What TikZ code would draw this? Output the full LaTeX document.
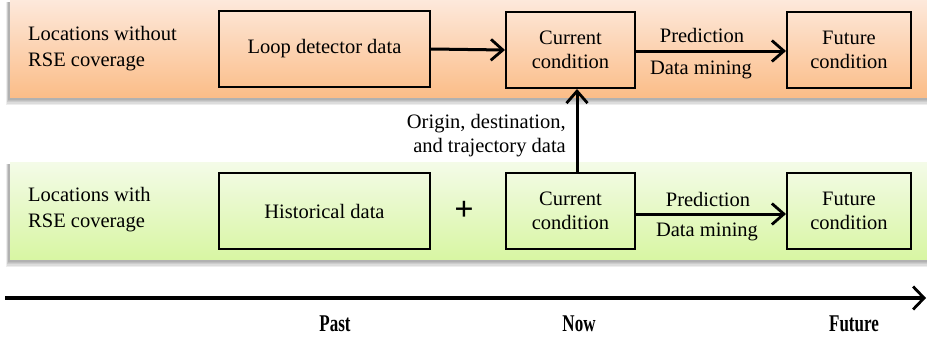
\documentclass[tikz,border=0pt]{standalone}
\usepackage{fontspec}
\setmainfont{LiberationSerif}[Extension=.ttf, UprightFont=*-Regular, BoldFont=*-Bold, ItalicFont=*-Italic, BoldItalicFont=*-BoldItalic]
\usetikzlibrary{arrows.meta}
\definecolor{orangetop}{HTML}{FDE9DC}
\definecolor{orangebot}{HTML}{FBBD88}
\definecolor{greentop}{HTML}{F4FBE8}
\definecolor{greenbot}{HTML}{D8F6A3}
\tikzset{
  stagebox/.style={draw=black, line width=2pt, align=center, inner sep=0pt,
    font=\fontsize{20.5}{24}\selectfont},
  plaintext/.style={align=left, inner sep=0pt, font=\fontsize{20.5}{26}\selectfont},
  flow/.style={line width=3pt, -{Straight Barb[length=12pt, width=21pt, line width=2.8pt]}},
  timelabel/.style={font=\fontsize{20}{22}\selectfont\bfseries, inner sep=0pt, yscale=1.2, xscale=0.85},
  bandshadow/.style={fill=black, opacity=0.07}
}
\begin{document}
\begin{tikzpicture}[x=1pt, y=-1pt]
\useasboundingbox (0,0) rectangle (927,338);

% soft shadows beneath the two bands
\foreach \s in {0,1,2,3,4} {
  \fill[bandshadow] (8-\s*0.5, 2) rectangle (935, 100+\s*1.2);
  \fill[bandshadow] (8-\s*0.5, 164) rectangle (935, 262+\s*1.2);
}

% coloured bands
\shade[top color=orangetop, bottom color=orangebot] (10,-1) rectangle (935,97);
\shade[top color=greentop, bottom color=greenbot] (10,162) rectangle (935,259);

% row labels
\node[plaintext, anchor=west] (rowtop) at (28,49) {Locations without\\RSE coverage};
\node[plaintext, anchor=west] (rowbot) at (28,210) {Locations with\\RSE coverage};

% upper row
\node[stagebox, minimum width=211pt, minimum height=76pt] (loop) at (324.5,49) {Loop detector data};
\node[stagebox, minimum width=129pt, minimum height=76pt] (curtop) at (570.5,50) {Current\\condition};
\node[stagebox, minimum width=124pt, minimum height=76pt] (futtop) at (849,50) {Future\\condition};

% lower row
\node[stagebox, minimum width=211pt, minimum height=76pt] (hist) at (324.5,211) {Historical data};
\node[stagebox, minimum width=129pt, minimum height=76pt] (curbot) at (570.5,211) {Current\\condition};
\node[stagebox, minimum width=124pt, minimum height=76pt] (futbot) at (849,211) {Future\\condition};
\node[inner sep=0pt, font=\fontsize{34}{34}\selectfont\bfseries] (plus) at (464,211) {+};

% connectors
\draw[flow] (loop.east) -- (curtop.west);
\draw[flow] (curtop.east |- 0,51) -- (futtop.west |- 0,51);
\draw[flow] (curbot.east |- 0,214) -- (futbot.west |- 0,214);
\draw[flow] ([xshift=6.5pt]curbot.north) -- ([xshift=6.5pt]curtop.south);

% connector labels
\node[plaintext] (predtop) at (702,35) {Prediction};
\node[plaintext] (minetop) at (701,70) {Data mining};
\node[plaintext] (predbot) at (708,199) {Prediction};
\node[plaintext] (minebot) at (707,232) {Data mining};
\node[plaintext, align=right, anchor=east, font=\fontsize{20.5}{24}\selectfont] (odlabel) at (566,136)
  {Origin, destination,\\and trajectory data};

% time axis
\coordinate (tstart) at (5,298);
\coordinate (tend) at (926,298);
\draw[line width=3.4pt, -{Straight Barb[length=11pt, width=23pt, line width=2.8pt]}] (tstart) -- (tend);
\node[timelabel] (past) at (335,324) {Past};
\node[timelabel] (now) at (579,324) {Now};
\node[timelabel] (future) at (854,324) {Future};
\end{tikzpicture}
\end{document}
